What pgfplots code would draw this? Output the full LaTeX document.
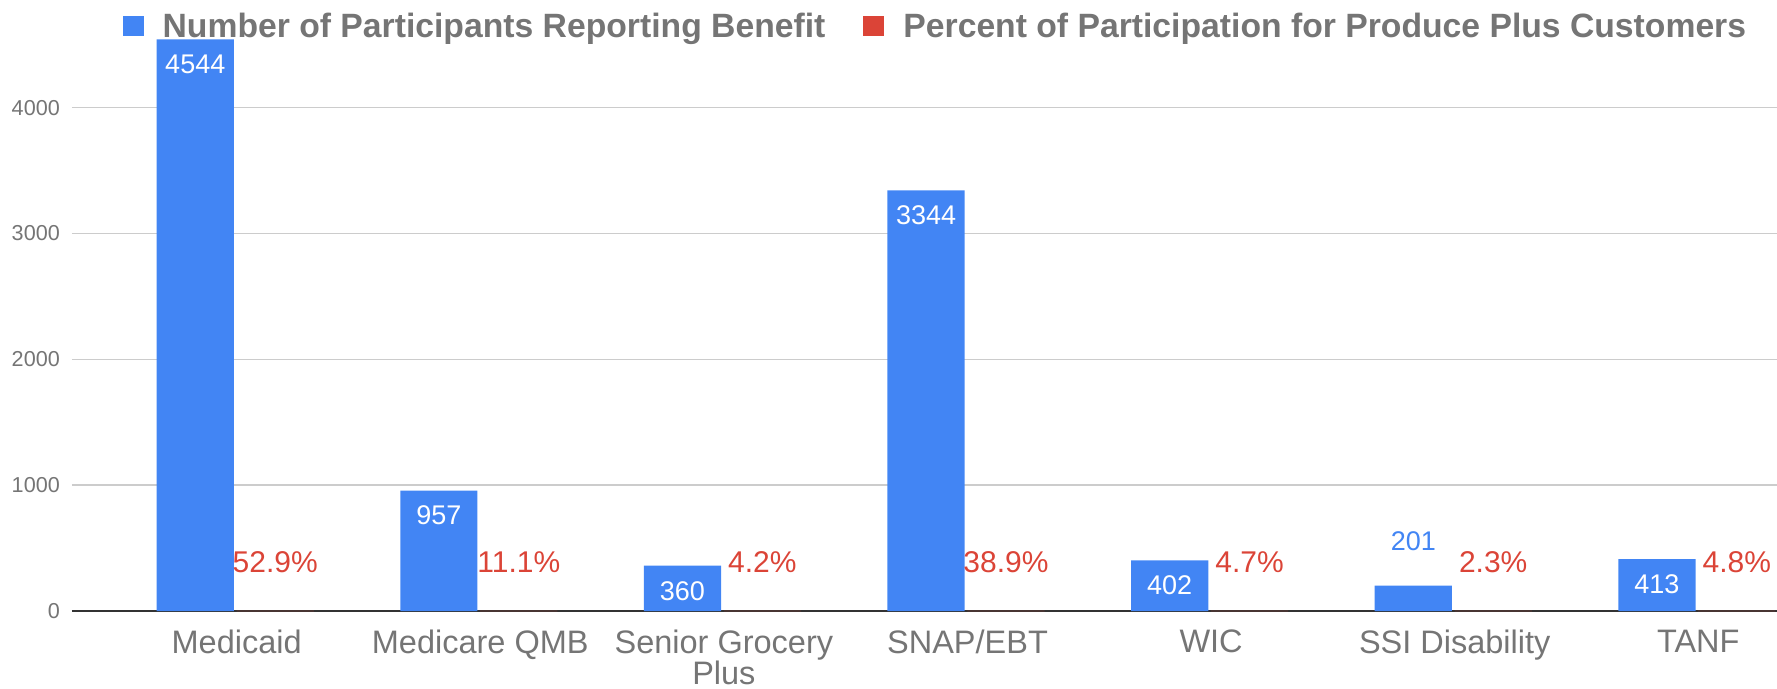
\documentclass[border=0pt]{standalone}
\usepackage{pgfplots}
\pgfplotsset{compat=1.18}
\usepackage{fontspec}
\setmainfont{Liberation Sans}
\definecolor{cblue}{HTML}{4285F4}
\definecolor{cred}{HTML}{DB4437}
\definecolor{ctext}{HTML}{757575}
\definecolor{cgrid}{HTML}{CCCCCC}
\definecolor{cbase}{HTML}{333333}
\begin{document}
\begin{tikzpicture}
\useasboundingbox (-72pt,-77pt) rectangle (1705pt,611pt);
\begin{axis}[
  scale only axis, width=1705pt, height=571.7pt,
  xmin=-0.676, xmax=6.323, ymin=0, ymax=4544,
  separate axis lines,
  axis x line*=bottom, axis y line*=left,
  y axis line style={draw=none},
  x axis line style={cbase, line width=2pt, -},
  major tick length=0pt, tick style={draw=none},
  ytick={0,1000,2000,3000,4000},
  ymajorgrids, grid style={cgrid, line width=1.5pt},
  xtick={0,...,6},
  xticklabels={Medicaid, Medicare QMB, {Senior Grocery\\Plus}, SNAP/EBT, WIC, SSI Disability, TANF},
  xticklabel style={align=center, font=\fontsize{32.5}{30.5}\selectfont, text=ctext, inner sep=0pt, yshift=-19pt},
  yticklabel style={font=\fontsize{21.6}{21.6}\selectfont, text=ctext, inner sep=0pt, xshift=-12pt},
  /pgf/number format/assume math mode=true,
  /pgf/number format/1000 sep={},
  legend columns=2,
  legend style={font=\bfseries\fontsize{33.7}{33.7}\selectfont, text=ctext, draw=none, fill=none,
    inner sep=0pt, outer sep=0pt, nodes={inner sep=0pt},
    at={(0.0297,1.0233)}, anchor=west,
    column sep=19pt, /tikz/every even column/.append style={column sep=38pt}},
]
\addplot[ybar, bar width=0.317, bar shift=-0.17, fill=cblue, draw=none,
  legend image code/.code={\fill[cblue] (0pt,-10pt) rectangle (21pt,10pt);},
  point meta=explicit symbolic, nodes near coords, nodes near coords align=center,
  nodes near coords style={xshift=-41.4pt, yshift=-25pt, text=white, font=\fontsize{27}{27}\selectfont, inner sep=0pt}]
  coordinates {(0,4544)[4544] (1,957)[957] (2,360)[360] (3,3344)[3344] (4,402)[402] (5,201)[] (6,413)[413]};
\addlegendentry{Number of Participants Reporting Benefit}
\addplot[ybar, bar width=0.317, bar shift=0.158, fill=cred, draw=none,
  legend image code/.code={\fill[cred] (0pt,-10pt) rectangle (21pt,10pt);},
  point meta=explicit symbolic, nodes near coords, nodes near coords align=center,
  nodes near coords style={xshift=38.5pt, yshift=49pt, text=cred, font=\fontsize{30}{30}\selectfont, inner sep=0pt}]
  coordinates {(0,0.529)[52.9\%] (1,0.111)[11.1\%] (2,0.042)[4.2\%] (3,0.389)[38.9\%] (4,0.047)[4.7\%] (5,0.023)[2.3\%] (6,0.048)[4.8\%]};
\addlegendentry{Percent of Participation for Produce Plus Customers}
\addplot[ybar, forget plot, bar width=0.317, bar shift=-0.17, fill=cblue, draw=none,
  point meta=explicit symbolic, nodes near coords, nodes near coords align=center,
  nodes near coords style={xshift=-41.4pt, yshift=44.5pt, text=cblue, font=\fontsize{27}{27}\selectfont, inner sep=0pt}]
  coordinates {(5,201)[201]};
\end{axis}
\end{tikzpicture}
\end{document}
